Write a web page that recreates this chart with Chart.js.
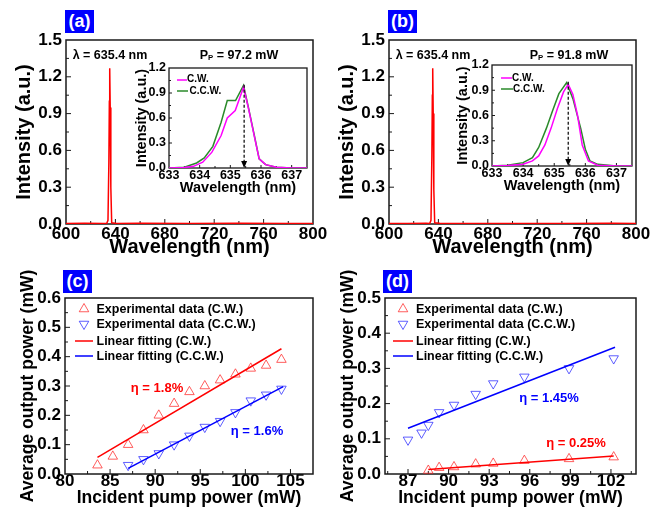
<!DOCTYPE html>
<html><head><meta charset="utf-8">
<script src="https://cdn.jsdelivr.net/npm/chart.js@4.4.1/dist/chart.umd.min.js"></script>
<style>
html,body{margin:0;padding:0;background:#fff;}
#wrap{position:relative;width:664px;height:510px;overflow:hidden;font-family:"Liberation Sans",Arial,Helvetica,sans-serif;font-weight:bold;color:#000;}
canvas{position:absolute;left:0;top:0;}
.t{position:absolute;white-space:nowrap;line-height:1;}
.c{transform:translate(-50%,-50%);}
.lab{position:absolute;background:#0000ff;color:#fff;font-size:18px;text-align:center;line-height:23px;height:23px;width:29px;}
sub{font-size:0.62em;vertical-align:-0.15em;}
.eta{font-weight:bold;}
</style></head>
<body>
<div id="wrap">
<canvas id="ca" width="664" height="510"></canvas>
<canvas id="cb" width="664" height="510"></canvas>
<canvas id="cc" width="664" height="510"></canvas>
<canvas id="cd" width="664" height="510"></canvas>
<canvas id="cia" width="664" height="510"></canvas>
<canvas id="cib" width="664" height="510"></canvas>

<div class="lab" style="left:65px;top:10px;">(a)</div>
<div class="lab" style="left:388px;top:10px;">(b)</div>
<div class="lab" style="left:63px;top:270px;">(c)</div>
<div class="lab" style="left:383px;top:270px;">(d)</div>

<div class="t c" style="left:110px;top:55px;font-size:12.5px;">λ = 635.4 nm</div>
<div class="t c" style="left:239px;top:55px;font-size:12.5px;">P<sub>P</sub> = 97.2 mW</div>
<div class="t c" style="left:433px;top:55px;font-size:12.5px;">λ = 635.4 nm</div>
<div class="t c" style="left:569px;top:55px;font-size:12.5px;">P<sub>P</sub> = 91.8 mW</div>

<div class="t c eta" style="left:157px;top:387px;font-size:13px;color:#ff0000;">η = 1.8%</div>
<div class="t c eta" style="left:257px;top:430px;font-size:13px;color:#0000ff;">η = 1.6%</div>
<div class="t c eta" style="left:549px;top:397px;font-size:13px;color:#0000ff;">η = 1.45%</div>
<div class="t c eta" style="left:576px;top:442px;font-size:13px;color:#ff0000;">η = 0.25%</div>
</div>

<script>
const F = '"Liberation Sans", Arial, Helvetica, sans-serif';

// ---------------- data ----------------
// main spectra (a), (b)
const specWl  = [600, 615, 630, 633, 634, 634.7, 635.1, 635.4, 635.8, 636.3, 637, 641, 660, 700, 740, 780, 800];
const specA   = [0.004, 0.006, 0.005, 0.006, 0.03, 0.5, 1.0, 1.27, 0.95, 0.3, 0.01, 0.005, 0.006, 0.004, 0.006, 0.005, 0.004];
const specB   = [0.005, 0.004, 0.006, 0.005, 0.03, 0.55, 1.05, 1.27, 0.9, 0.28, 0.01, 0.006, 0.005, 0.005, 0.004, 0.006, 0.005];
const xTicksSpec = [600, 640, 680, 720, 760, 800];
const yTicksSpec = [0, 0.3, 0.6, 0.9, 1.2, 1.5];

// insets
const xTicksInset = [633, 634, 635, 636, 637];
const yTicksInset = [0, 0.3, 0.6, 0.9, 1.2];
const insA_cwWl  = [633, 633.5, 633.8, 634.1, 634.4, 634.7, 634.9, 635.16, 635.43, 635.6, 635.8, 635.94, 636.15, 636.5, 637, 637.5];
const insA_cw    = [0.0, 0.005, 0.02, 0.07, 0.19, 0.39, 0.60, 0.69, 0.97, 0.70, 0.35, 0.11, 0.04, 0.01, 0.0, 0.0];
const insA_ccwWl = [633, 633.5, 633.9, 634.15, 634.43, 634.7, 634.9, 635.17, 635.43, 635.6, 635.8, 635.94, 636.15, 636.5, 637, 637.5];
const insA_ccw   = [0.0, 0.01, 0.06, 0.12, 0.26, 0.55, 0.81, 0.81, 0.99, 0.71, 0.36, 0.11, 0.04, 0.01, 0.0, 0.0];
const insB_cwWl  = [633, 633.5, 634, 634.3, 634.5, 634.7, 634.9, 635.1, 635.3, 635.45, 635.6, 635.75, 635.9, 636.1, 636.4, 637, 637.5];
const insB_cw    = [0.0, 0.005, 0.02, 0.06, 0.12, 0.25, 0.45, 0.68, 0.88, 0.97, 0.85, 0.6, 0.25, 0.06, 0.01, 0.0, 0.0];
const insB_ccwWl = [633, 633.5, 634, 634.3, 634.5, 634.75, 634.95, 635.15, 635.4, 635.6, 635.85, 636.0, 636.15, 636.4, 637, 637.5];
const insB_ccw   = [0.0, 0.01, 0.04, 0.1, 0.22, 0.45, 0.66, 0.86, 0.99, 0.8, 0.45, 0.2, 0.06, 0.02, 0.0, 0.0];
const peakWl = 635.45;

// (c)
const xTicksC = [80, 85, 90, 95, 100, 105];
const yTicksC = [0, 0.1, 0.2, 0.3, 0.4, 0.5, 0.6];
const pumpCW_c  = [83.6, 85.3, 87.0, 88.7, 90.4, 92.1, 93.8, 95.5, 97.2, 98.9, 100.6, 102.3, 104.0];
const powCW_c   = [0.03, 0.06, 0.10, 0.15, 0.20, 0.24, 0.28, 0.30, 0.32, 0.34, 0.36, 0.37, 0.39];
const pumpCCW_c = [87.0, 88.7, 90.4, 92.1, 93.8, 95.5, 97.2, 98.9, 100.6, 102.3, 104.0];
const powCCW_c  = [0.03, 0.05, 0.07, 0.10, 0.13, 0.16, 0.18, 0.21, 0.25, 0.27, 0.29];
const fitCWx_c  = [83.6, 104.0], fitCWy_c  = [0.057, 0.427];
const fitCCWx_c = [87.0, 104.2], fitCCWy_c = [0.019, 0.298];

// (d)
const xTicksD = [87, 90, 93, 96, 99, 102];
const yTicksD = [0, 0.1, 0.2, 0.3, 0.4, 0.5];
const pumpCW_d  = [88.5, 89.3, 90.4, 92.0, 93.3, 95.6, 98.9, 102.2];
const powCW_d   = [0.01, 0.018, 0.02, 0.028, 0.03, 0.038, 0.043, 0.048];
const pumpCCW_d = [87.0, 88.0, 88.5, 89.3, 90.4, 92.0, 93.3, 95.6, 98.9, 102.2];
const powCCW_d  = [0.097, 0.117, 0.139, 0.175, 0.196, 0.227, 0.257, 0.276, 0.30, 0.328];
const fitCWx_d  = [88.5, 102.2], fitCWy_d  = [0.013, 0.051];
const fitCCWx_d = [87.0, 102.3], fitCCWy_d = [0.13, 0.36];

// ---------------- helpers ----------------
const pts = (xs, ys) => xs.map((x, i) => ({x: x, y: ys[i]}));
const RED = '#ff0000', BLUE = '#0000ff', MAG = '#ff00ff', GRN = '#2a8a2a';
const MRED = 'rgba(255,40,40,0.75)', MBLUE = 'rgba(40,40,255,0.75)';

const lineDs = (data, color, w) => ({data, showLine: true, borderColor: color, borderWidth: w, pointRadius: 0, tension: 0, fill: false});
const markDs = (data, color, rot) => ({data, showLine: false, pointStyle: 'triangle', rotation: rot, pointRadius: 5.5, pointBorderWidth: 1, borderColor: color, pointBorderColor: color, backgroundColor: 'rgba(0,0,0,0)', pointBackgroundColor: 'rgba(0,0,0,0)'});

const framePlugin = {
  id: 'frame',
  beforeDatasetsDraw(chart, args, o) {
    if (!o || !o.mx) return;
    const {ctx, chartArea: a, scales: {x, y}} = chart;
    ctx.save();
    ctx.strokeStyle = '#1a1a1a';
    ctx.lineWidth = o.lw || 1.5;
    ctx.strokeRect(a.left, a.top, a.right - a.left, a.bottom - a.top);
    ctx.lineWidth = 1;
    const minors = arr => {
      const st = arr[1] - arr[0];
      const m = arr.slice(1).map((v, i) => (v + arr[i]) / 2);
      m.push(arr[0] - st / 2, arr[arr.length - 1] + st / 2);
      return m;
    };
    const tx = (v, len) => { const p = x.getPixelForValue(v); if (p < a.left + 1 || p > a.right - 1) return; ctx.beginPath(); ctx.moveTo(p, a.bottom); ctx.lineTo(p, a.bottom - len); ctx.stroke(); };
    const ty = (v, len) => { const p = y.getPixelForValue(v); if (p < a.top + 1 || p > a.bottom - 1) return; ctx.beginPath(); ctx.moveTo(a.left, p); ctx.lineTo(a.left + len, p); ctx.stroke(); };
    o.mx.forEach(v => tx(v, o.major)); minors(o.mx).forEach(v => tx(v, o.minor));
    o.my.forEach(v => ty(v, o.major)); minors(o.my).forEach(v => ty(v, o.minor));
    ctx.restore();
  }
};
const arrowPlugin = {
  id: 'arrow',
  afterDatasetsDraw(chart, args, o) {
    if (!o || o.x == null) return;
    const {ctx, scales: {x, y}} = chart;
    const px = x.getPixelForValue(o.x), y0 = y.getPixelForValue(o.top), y1 = y.getPixelForValue(0);
    ctx.save();
    ctx.strokeStyle = '#000'; ctx.lineWidth = 1.2; ctx.setLineDash([3, 2]);
    ctx.beginPath(); ctx.moveTo(px, y0); ctx.lineTo(px, y1 - 5); ctx.stroke();
    ctx.setLineDash([]); ctx.fillStyle = '#000';
    ctx.beginPath(); ctx.moveTo(px - 3, y1 - 7); ctx.lineTo(px + 3, y1 - 7); ctx.lineTo(px, y1); ctx.closePath(); ctx.fill();
    ctx.restore();
  }
};
Chart.register(framePlugin, arrowPlugin);

function build(id, o) {
  return new Chart(document.getElementById(id), {
    type: 'scatter',
    data: {datasets: o.datasets},
    options: {
      responsive: false, animation: false, devicePixelRatio: 1,
      layout: {padding: o.pad},
      plugins: {legend: {display: false}, tooltip: {enabled: false},
        frame: {mx: o.xt, my: o.yt, major: o.major, minor: o.minor, lw: o.lw},
        arrow: o.arrow || {}},
      scales: {
        x: {type: 'linear', position: 'bottom', min: o.xmin, max: o.xmax,
          afterBuildTicks: s => { s.ticks = o.xt.map(v => ({value: v})); },
          afterFit: s => { s.height = o.xh; },
          grid: {display: false, drawTicks: false}, border: {display: false},
          ticks: {autoSkip: false, maxRotation: 0, minRotation: 0, padding: o.xtp, color: '#000', font: {family: F, size: o.tf, weight: 'bold'}, callback: o.xf},
          title: {display: true, text: o.xtitle, color: '#000', font: {family: F, size: o.ttf, weight: 'bold'}, padding: {top: 0, bottom: o.xtpb}}},
        y: {type: 'linear', position: 'left', min: o.ymin, max: o.ymax,
          afterBuildTicks: s => { s.ticks = o.yt.map(v => ({value: v})); },
          afterFit: s => { s.width = o.yw; },
          grid: {display: false, drawTicks: false}, border: {display: false},
          ticks: {autoSkip: false, padding: o.ytp, color: '#000', font: {family: F, size: o.tf, weight: 'bold'}, callback: o.yf},
          title: {display: true, text: o.ytitle, color: '#000', font: {family: F, size: o.ttf, weight: 'bold'}, padding: {top: o.ytpt, bottom: 0}}}
      }
    }
  });
}
const f1 = v => Number(v).toFixed(1);
const f0 = v => String(v);

// (a) main
build('ca', {datasets: [lineDs(pts(specWl, specA), RED, 1.5)],
  pad: {left: 0, top: 40, right: 351, bottom: 250}, xmin: 600, xmax: 800, ymin: 0, ymax: 1.5,
  xt: xTicksSpec, yt: yTicksSpec, xh: 36, yw: 66, tf: 17, ttf: 20, xtp: 0, ytp: 4, xtpb: 1, ytpt: 12,
  xf: f0, yf: f1, xtitle: 'Wavelength (nm)', ytitle: 'Intensity (a.u.)', major: 5, minor: 3});
// (b) main
build('cb', {datasets: [lineDs(pts(specWl, specB), RED, 1.5)],
  pad: {left: 323, top: 40, right: 28, bottom: 250}, xmin: 600, xmax: 800, ymin: 0, ymax: 1.5,
  xt: xTicksSpec, yt: yTicksSpec, xh: 36, yw: 66, tf: 17, ttf: 20, xtp: 0, ytp: 4, xtpb: 1, ytpt: 12,
  xf: f0, yf: f1, xtitle: 'Wavelength (nm)', ytitle: 'Intensity (a.u.)', major: 5, minor: 3});
// (c)
build('cc', {datasets: [
    lineDs(pts(fitCWx_c, fitCWy_c), RED, 1.5), lineDs(pts(fitCCWx_c, fitCCWy_c), BLUE, 1.5),
    markDs(pts(pumpCW_c, powCW_c), MRED, 0), markDs(pts(pumpCCW_c, powCCW_c), MBLUE, 180)],
  pad: {left: 0, top: 298, right: 351, bottom: 0}, xmin: 80, xmax: 107.5, ymin: 0, ymax: 0.6,
  xt: xTicksC, yt: yTicksC, xh: 36, yw: 65, tf: 17, ttf: 17.5, xtp: -3, ytp: 4, xtpb: 1.5, ytpt: 18,
  xf: f0, yf: f1, xtitle: 'Incident pump power (mW)', ytitle: 'Average output power (mW)', major: 5, minor: 3});
// (d)
build('cd', {datasets: [
    lineDs(pts(fitCWx_d, fitCWy_d), RED, 1.5), lineDs(pts(fitCCWx_d, fitCCWy_d), BLUE, 1.5),
    markDs(pts(pumpCW_d, powCW_d), MRED, 0), markDs(pts(pumpCCW_d, powCCW_d), MBLUE, 180)],
  pad: {left: 320, top: 298, right: 28, bottom: 0}, xmin: 85.3, xmax: 103.85, ymin: 0, ymax: 0.5,
  xt: xTicksD, yt: yTicksD, xh: 36, yw: 65, tf: 17, ttf: 17.5, xtp: -3, ytp: 4, xtpb: 1.5, ytpt: 18,
  xf: f0, yf: f1, xtitle: 'Incident pump power (mW)', ytitle: 'Average output power (mW)', major: 5, minor: 3});
// inset (a)
build('cia', {datasets: [lineDs(pts(insA_cwWl, insA_cw), MAG, 1.5), lineDs(pts(insA_ccwWl, insA_ccw), GRN, 1.5)],
  pad: {left: 130, top: 68, right: 357, bottom: 312}, xmin: 633, xmax: 637.5, ymin: 0, ymax: 1.2,
  xt: xTicksInset, yt: yTicksInset, xh: 30, yw: 39, tf: 12.5, ttf: 14.5, xtp: 0, ytp: 3, xtpb: 1, ytpt: 3,
  xf: f0, yf: f1, xtitle: 'Wavelength (nm)', ytitle: 'Intensity (a.u.)', major: 3, minor: 2, lw: 1.3,
  arrow: {x: peakWl, top: 1.0}});
// inset (b)
build('cib', {datasets: [lineDs(pts(insB_cwWl, insB_cw), MAG, 1.5), lineDs(pts(insB_ccwWl, insB_ccw), GRN, 1.5)],
  pad: {left: 452, top: 65, right: 32, bottom: 314}, xmin: 633, xmax: 637.5, ymin: 0, ymax: 1.2,
  xt: xTicksInset, yt: yTicksInset, xh: 30, yw: 40, tf: 12.5, ttf: 14.5, xtp: 0, ytp: 3, xtpb: 1, ytpt: 2.5,
  xf: f0, yf: f1, xtitle: 'Wavelength (nm)', ytitle: 'Intensity (a.u.)', major: 3, minor: 2, lw: 1.3,
  arrow: {x: peakWl, top: 1.0}});

// ---------------- legends (HTML) ----------------
const wrap = document.getElementById('wrap');
function sym(type, color, x, y, len) {
  const ns = 'http://www.w3.org/2000/svg';
  const s = document.createElementNS(ns, 'svg');
  const w = len || 14, h = 12;
  s.setAttribute('width', w); s.setAttribute('height', h);
  s.style.position = 'absolute'; s.style.left = (x - w / 2) + 'px'; s.style.top = (y - h / 2) + 'px';
  let el;
  if (type === 'line') {
    el = document.createElementNS(ns, 'line');
    el.setAttribute('x1', 0); el.setAttribute('x2', w); el.setAttribute('y1', h / 2); el.setAttribute('y2', h / 2);
    el.setAttribute('stroke', color); el.setAttribute('stroke-width', 1.5);
  } else {
    el = document.createElementNS(ns, 'polygon');
    const r = 5.5, cx = w / 2, cy = h / 2;
    const p = type === 'tri'
      ? [[cx, cy - r], [cx + r * 0.866, cy + r / 2], [cx - r * 0.866, cy + r / 2]]
      : [[cx, cy + r], [cx + r * 0.866, cy - r / 2], [cx - r * 0.866, cy - r / 2]];
    el.setAttribute('points', p.map(q => q.join(',')).join(' '));
    el.setAttribute('fill', 'none'); el.setAttribute('stroke', color); el.setAttribute('stroke-width', 1);
  }
  s.appendChild(el); wrap.appendChild(s);
}
function txt(s, x, y, size) {
  const d = document.createElement('div');
  d.className = 't'; d.textContent = s; d.style.left = x + 'px'; d.style.top = y + 'px';
  d.style.fontSize = size + 'px'; d.style.transform = 'translateY(-50%)';
  wrap.appendChild(d);
}
const legendLabels = ['Experimental data (C.W.)', 'Experimental data (C.C.W.)', 'Linear fitting (C.W.)', 'Linear fitting (C.C.W.)'];
const legendRows = [308.5, 324, 340.5, 356];
function bigLegend(symX, lineLen, textX) {
  sym('tri', MRED, symX, legendRows[0]);
  sym('itri', MBLUE, symX, legendRows[1]);
  sym('line', RED, symX, legendRows[2], lineLen);
  sym('line', BLUE, symX, legendRows[3], lineLen);
  legendLabels.forEach((s, i) => txt(s, textX, legendRows[i], 12.5));
}
bigLegend(84, 18, 96.5);
bigLegend(403, 20, 416);

const insetLabels = ['C.W.', 'C.C.W.'];
sym('line', MAG, 181.5, 79.5, 10); txt(insetLabels[0], 187, 79, 10);
sym('line', GRN, 182, 91, 11); txt(insetLabels[1], 189.5, 91, 10);
sym('line', MAG, 506, 78, 11); txt(insetLabels[0], 512, 77.5, 10);
sym('line', GRN, 506.5, 89, 12); txt(insetLabels[1], 513, 89, 10);
</script>
</body></html>
